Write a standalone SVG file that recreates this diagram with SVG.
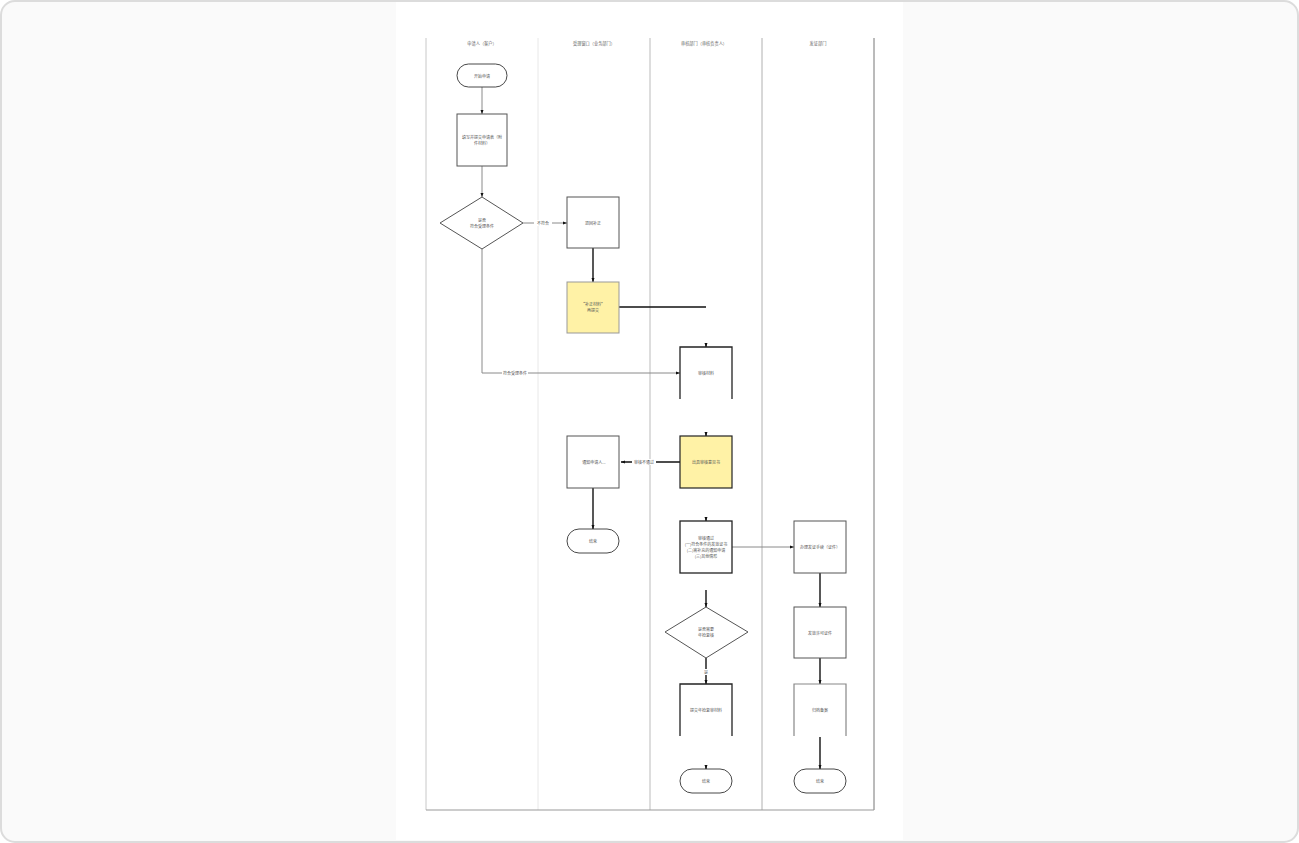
<svg xmlns="http://www.w3.org/2000/svg" width="1299" height="843" viewBox="0 0 1299 843">
<style>
text{font-family:"Noto Sans CJK SC","Liberation Sans",sans-serif;font-size:4px;fill:#555;text-anchor:middle;dominant-baseline:central}
.hd{font-size:4.2px;fill:#666}
.box{fill:#fff;stroke:#555;stroke-width:1}
.boxk{fill:#fff;stroke:#222;stroke-width:1.3}
.yel{fill:#fff2a6;stroke:#999;stroke-width:1}
.yelk{fill:#fff2a6;stroke:#222;stroke-width:1.2}
.open{fill:none;stroke:#222;stroke-width:1.3}
.openg{fill:none;stroke:#888;stroke-width:1.2}
.term{fill:#fff;stroke:#333;stroke-width:0.9}
.thin{fill:none;stroke:#8a8a8a;stroke-width:1}
.thick{fill:none;stroke:#111;stroke-width:1.4}
.lbl{fill:#fff}
</style>
<defs>
<marker id="ah" markerWidth="4" markerHeight="4" refX="4" refY="2" orient="auto" markerUnits="userSpaceOnUse"><path d="M0,0.5 L4,2 L0,3.5 Z" fill="#111"/></marker>
</defs>
<rect x="1" y="1" width="1297" height="841" rx="14" fill="#fafafa" stroke="#dcdcdc" stroke-width="2"/>
<rect x="396" y="2" width="507" height="838" fill="#fff"/>
<g id="lanes">
<line x1="426" y1="38" x2="426" y2="810" stroke="#c8c8c8" stroke-width="1"/>
<line x1="538" y1="38" x2="538" y2="810" stroke="#e8e8e8" stroke-width="1"/>
<line x1="650" y1="38" x2="650" y2="810" stroke="#bbb" stroke-width="1"/>
<line x1="762" y1="38" x2="762" y2="810" stroke="#b0b0b0" stroke-width="1"/>
<line x1="874" y1="38" x2="874" y2="810" stroke="#777" stroke-width="1"/>
<line x1="426" y1="810" x2="874" y2="810" stroke="#999" stroke-width="1"/>
<text class="hd" x="482" y="43">申请人（客户）</text>
<text class="hd" x="594" y="43">受理窗口（业务部门）</text>
<text class="hd" x="704" y="43">审核部门（审核负责人）</text>
<text class="hd" x="818" y="43">发证部门</text>
</g>
<g id="connectors">
<path class="thin" d="M482,87 V114" marker-end="url(#ah)"/>
<path class="thin" d="M482,166 V197" marker-end="url(#ah)"/>
<path class="thin" d="M523,223 H567" marker-end="url(#ah)"/>
<rect class="lbl" x="534" y="220" width="18" height="6"/>
<text x="543" y="223">不符合</text>
<path class="thin" d="M482,249 V373 H680" marker-end="url(#ah)"/>
<rect class="lbl" x="502" y="370" width="26" height="6"/>
<text x="515" y="373">符合受理条件</text>
<path class="thick" d="M593,248 V282" marker-end="url(#ah)"/>
<path class="thick" d="M619,307 H706"/>
<path class="thick" d="M706,343 V347" marker-end="url(#ah)"/>
<path class="thick" d="M706,432 V436" marker-end="url(#ah)"/>
<path class="thick" d="M680,462 H621" marker-end="url(#ah)"/>
<rect class="lbl" x="632" y="459" width="24" height="6"/>
<text x="644" y="462">审核不通过</text>
<path class="thick" d="M593,488 V529" marker-end="url(#ah)"/>
<path class="thick" d="M706,517 V521" marker-end="url(#ah)"/>
<path class="thin" d="M732,547 H794" marker-end="url(#ah)"/>
<path class="thick" d="M706,590 V607" marker-end="url(#ah)"/>
<path class="thick" d="M706,658 V684" marker-end="url(#ah)"/>
<rect class="lbl" x="703" y="669" width="6" height="6"/>
<text x="706" y="672">是</text>
<path class="thick" d="M706,765 V769" marker-end="url(#ah)"/>
<path class="thick" d="M820,573 V607" marker-end="url(#ah)"/>
<path class="thick" d="M820,658 V684" marker-end="url(#ah)"/>
<path class="thick" d="M820,737 V769" marker-end="url(#ah)"/>
</g>
<g id="n-start">
<rect class="term" x="457" y="64" width="50" height="23" rx="11.5"/>
<text x="482" y="75.5">开始申请</text>
</g>
<g id="n-fill">
<rect class="box" x="457" y="114" width="50" height="52"/>
<text x="482" y="137">填写并提交申请表（附</text>
<text x="482" y="143">件材料）</text>
</g>
<g id="n-check">
<polygon class="box" points="482,197 523,223 482,249 440,223"/>
<text x="482" y="220">是否</text>
<text x="482" y="226">符合受理条件</text>
</g>
<g id="n-return">
<rect class="box" x="567" y="197" width="52" height="51"/>
<text x="593" y="222.5">退回补正</text>
</g>
<g id="n-supply">
<rect class="yel" x="567" y="282" width="52" height="51"/>
<text x="593" y="304">“补正材料”</text>
<text x="593" y="310">再提交</text>
</g>
<g id="n-review">
<path class="open" d="M680,399 V347 H732 V399"/>
<text x="706" y="373">审核材料</text>
</g>
<g id="n-opinion">
<rect class="yelk" x="680" y="436" width="52" height="52"/>
<text x="706" y="462">出具审核意见书</text>
</g>
<g id="n-notify">
<rect class="box" x="567" y="436" width="52" height="52"/>
<text x="594" y="462">通知申请人...</text>
</g>
<g id="n-end1">
<rect class="term" x="567" y="529" width="52" height="24" rx="12"/>
<text x="593" y="541">结束</text>
</g>
<g id="n-pass">
<rect class="boxk" x="680" y="521" width="52" height="52"/>
<text x="706" y="538">审核通过</text>
<text x="706" y="544">(一)符合条件的发放证书</text>
<text x="706" y="550">(二)需补充的通知申请</text>
<text x="706" y="556">(三)其他情形</text>
</g>
<g id="n-recheck">
<polygon class="box" points="706,607 748,632 706,658 665,632"/>
<text x="706" y="629">是否需要</text>
<text x="706" y="635">年检复核</text>
</g>
<g id="n-submit">
<path class="open" d="M680,736 V684 H732 V736"/>
<text x="706" y="710">提交年检复审材料</text>
</g>
<g id="n-end2">
<rect class="term" x="680" y="769" width="52" height="24" rx="12"/>
<text x="706" y="781">结束</text>
</g>
<g id="n-issue">
<rect class="box" x="794" y="521" width="52" height="52"/>
<text x="820" y="547">办理发证手续（证件）</text>
</g>
<g id="n-deliver">
<rect class="box" x="794" y="607" width="52" height="51"/>
<text x="820" y="632.5">发放许可证件</text>
</g>
<g id="n-archive">
<path class="openg" d="M794,736 V684 H846 V736"/>
<text x="820" y="710">归档备案</text>
</g>
<g id="n-end3">
<rect class="term" x="794" y="769" width="52" height="24" rx="12"/>
<text x="820" y="781">结束</text>
</g>
</svg>
